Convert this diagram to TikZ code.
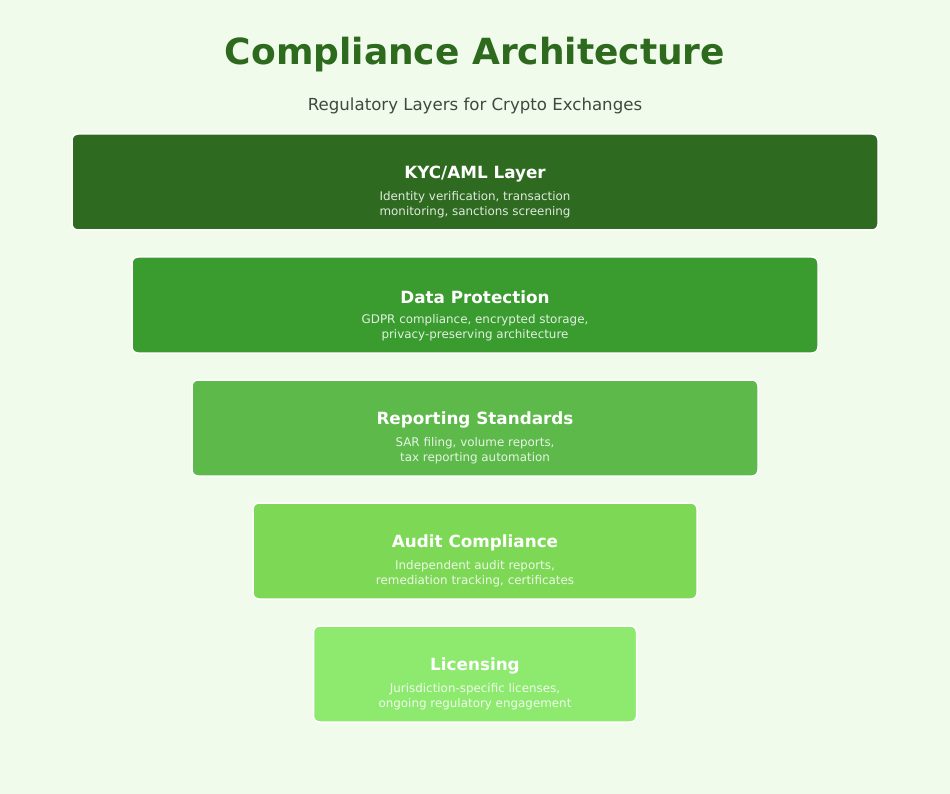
\documentclass[tikz,border=0pt]{standalone}
\usepackage{fontspec}
\setmainfont{DejaVu Sans}
\usepackage{xcolor}
\usetikzlibrary{positioning}
\definecolor{bgpage}{HTML}{F1FBEC}
\definecolor{titlegreen}{HTML}{2D6A1E}
\definecolor{subgray}{HTML}{404840}
\definecolor{layerA}{HTML}{2E6B20}
\definecolor{layerB}{HTML}{3A9C2F}
\definecolor{layerC}{HTML}{5CB94A}
\definecolor{layerD}{HTML}{7DD955}
\definecolor{layerE}{HTML}{8EE96F}
\tikzset{
	layer/.style={draw=white,line width=1.5pt,rounded corners=6pt,
		minimum height=96pt,inner sep=0pt},
	ltitle/.style={text=white,font=\fontsize{16.8}{20}\selectfont\bfseries},
	ldesc/.style={text=white,opacity=.85,align=center,
		font=\fontsize{11.9}{15}\selectfont}
}
\begin{document}
\begin{tikzpicture}[x=1pt,y=-1pt]
	\fill[bgpage] (0,0) rectangle (950,794);
	\useasboundingbox (0,0) rectangle (950,794);
	%
	\node (title) at (475,55) {\fontsize{36}{42}\selectfont\bfseries\color{titlegreen}Compliance Architecture};
	\node (sub) at (475,106) {\fontsize{16.6}{19}\selectfont\color{subgray}Regulatory Layers for Crypto Exchanges};
	%
	\node[layer,fill=layerA,minimum width=806pt] (kyc) at (475,182) {};
	\node[layer,fill=layerB,minimum width=686pt] (data) at (475,305) {};
	\node[layer,fill=layerC,minimum width=566pt] (report) at (475,428) {};
	\node[layer,fill=layerD,minimum width=444pt] (audit) at (475,551) {};
	\node[layer,fill=layerE,minimum width=323pt] (lic) at (475,674) {};
	%
	\foreach \n/\t/\a/\b in {
		kyc/KYC\slash AML Layer/{Identity verification, transaction}/{monitoring, sanctions screening},
		data/Data Protection/{GDPR compliance, encrypted storage,}/privacy-preserving architecture,
		report/Reporting Standards/{SAR filing, volume reports,}/tax reporting automation,
		audit/Audit Compliance/{Independent audit reports,}/{remediation tracking, certificates},
		lic/Licensing/{Jurisdiction-specific licenses,}/ongoing regulatory engagement}
	{
		\node[ltitle] (\n-t) at ([yshift=8pt]\n.center) {\t};
		\node[ldesc] (\n-d) at ([yshift=-23pt]\n.center) {\a\\\b};
	}
\end{tikzpicture}
\end{document}
